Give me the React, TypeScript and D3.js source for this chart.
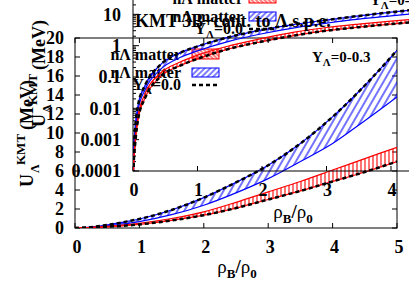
import React from "react";
import * as d3 from "d3";

// density points (rho_B / rho_0) and the two bands
const rho = [0, 0.01, 0.03, 0.08, 0.19, 0.42, 0.73, 1.0, 1.5, 2, 2.5, 3, 3.5, 4, 4.5, 5];
const blueUpper = [0, 0.0004, 0.002, 0.013, 0.056, 0.24, 0.59, 0.95, 1.9, 3.2, 4.8, 6.6, 8.9, 11.7, 15.0, 18.7];
const blueLower = [0, 0.0003, 0.0015, 0.009, 0.04, 0.17, 0.42, 0.68, 1.4, 2.4, 3.7, 5.2, 7.0, 8.9, 11.3, 13.8];
const redUpper = [0, 0.0002, 0.0008, 0.006, 0.03, 0.13, 0.3, 0.5, 1.0, 1.7, 2.7, 3.8, 4.9, 6.1, 7.3, 8.5];
const redLower = [0, 0.00015, 0.0006, 0.0045, 0.022, 0.1, 0.23, 0.38, 0.8, 1.35, 2.1, 3.0, 3.9, 4.9, 5.9, 7.0];

const mainXTicks = [0, 1, 2, 3, 4, 5];
const mainYTicks = [0, 2, 4, 6, 8, 10, 12, 14, 16, 18, 20];
const insetXTicks = [0, 1, 2, 3, 4, 5];
const insetYTicks = [0.0001, 0.001, 0.01, 0.1, 1, 10];
const insetYLabels = ["0.0001", "0.001", "0.01", "0.1", "1", "10"];

const legendNames = ["n\u039B matter", "n\u039B matter"];
const FONT = "'Liberation Serif', 'DejaVu Serif', serif";

export default function App() {
  const mx = d3.scaleLinear().domain([0, 5]).range([75, 397]);
  const my = d3.scaleLinear().domain([0, 20]).range([228, 38]);
  const ix = d3.scaleLinear().domain([0, 5]).range([133, 455.5]);
  const iy = d3.scaleLog().domain([1e-4, 100]).range([171, -17]);
  const idx = d3.range(rho.length);
  const fl = (v: number) => Math.max(v, 1e-7);

  const mArea = (lo: number[], hi: number[]) =>
    d3.area<number>().x((i) => mx(rho[i])).y0((i) => my(lo[i])).y1((i) => my(hi[i])).curve(d3.curveMonotoneX)(idx) || "";
  const mLine = (v: number[]) =>
    d3.line<number>().x((i) => mx(rho[i])).y((i) => my(v[i])).curve(d3.curveMonotoneX)(idx) || "";
  const iArea = (lo: number[], hi: number[]) =>
    d3.area<number>().x((i) => ix(rho[i])).y0((i) => iy(fl(lo[i]))).y1((i) => iy(fl(hi[i]))).curve(d3.curveMonotoneX)(idx) || "";
  const iLine = (v: number[]) =>
    d3.line<number>().x((i) => ix(rho[i])).y((i) => iy(fl(v[i]))).curve(d3.curveMonotoneX)(idx) || "";

  const logTicks = iy.ticks().filter((t) => t >= 1e-4 && t <= 100);
  const isMajor = (t: number) => Math.abs(Math.log10(t) - Math.round(Math.log10(t))) < 1e-6;

  const bands = (area: any, line: any) => (
    <>
      <path d={area(blueLower, blueUpper)} fill="url(#blueHatch)" stroke="none" />
      <path d={line(blueLower)} fill="none" stroke="#0000ff" strokeWidth={1.2} />
      <path d={line(blueUpper)} fill="none" stroke="#0000ff" strokeWidth={1.2} />
      <path d={area(redLower, redUpper)} fill="url(#redHatch)" stroke="none" />
      <path d={line(redLower)} fill="none" stroke="#ff0000" strokeWidth={1.2} />
      <path d={line(redUpper)} fill="none" stroke="#ff0000" strokeWidth={1.2} />
      <path d={line(blueUpper)} fill="none" stroke="#000" strokeWidth={2.5} strokeDasharray="4,3" />
      <path d={line(redLower)} fill="none" stroke="#000" strokeWidth={2.5} strokeDasharray="4,3" />
    </>
  );

  const legend = (tx: number, bx: number, y0: number) => (
    <g>
      <text x={tx} y={y0} textAnchor="end" fontSize={16}>{legendNames[0]}</text>
      <rect x={bx} y={y0 - 11} width={27} height={10} fill="url(#redKey)" stroke="#ff0000" strokeWidth={1} />
      <text x={tx} y={y0 + 18} textAnchor="end" fontSize={16}>{legendNames[1]}</text>
      <rect x={bx} y={y0 + 8} width={27} height={9} fill="url(#blueKey)" stroke="#0000ff" strokeWidth={1} />
      <text x={tx} y={y0 + 30} textAnchor="end" fontSize={16}>
        Y<tspan dy={4} fontSize={11}>{"\u039B"}</tspan><tspan dy={-4}>=0.0</tspan>
      </text>
      <line x1={bx} x2={bx + 27} y1={y0 + 25} y2={y0 + 25} stroke="#000" strokeWidth={2.5} strokeDasharray="4,3" />
    </g>
  );

  const yLabel = (x: number, y: number) => (
    <g transform={`translate(${x},${y}) rotate(-90)`} fontSize={18}>
      <text x={0} y={0}>U</text>
      <text x={14} y={6} fontSize={12}>{"\u039B"}</text>
      <text x={22} y={-8} fontSize={13}>KMT</text>
      <text x={57} y={0}>(MeV)</text>
    </g>
  );

  const xLabel = (x: number, y: number) => (
    <text x={x} y={y} textAnchor="middle" fontSize={19}>
      <tspan fontWeight="normal">{"\u03C1"}</tspan>
      <tspan dy={5} fontSize={13}>B</tspan>
      <tspan dy={-5}>/</tspan>
      <tspan fontWeight="normal">{"\u03C1"}</tspan>
      <tspan dy={5} fontSize={13}>0</tspan>
    </text>
  );

  const yTag = (x: number, y: number) => (
    <text x={x} y={y} fontSize={15}>
      Y<tspan dy={4} fontSize={11}>{"\u039B"}</tspan><tspan dy={-4}>=0-0.3</tspan>
    </text>
  );

  return (
    <svg width={409} height={286} style={{ position: "absolute", left: 0, top: 0 }} fontFamily={FONT} fontWeight="bold">
      <defs>
        <clipPath id="mainClip"><rect x={75} y={38} width={322} height={190} /></clipPath>
        <clipPath id="insetClip"><rect x={133} y={-17} width={322.5} height={188} /></clipPath>
        <pattern id="blueHatch" patternUnits="userSpaceOnUse" width={6} height={6} patternTransform="rotate(30)">
          <line x1={1} y1={0} x2={1} y2={6} stroke="#0000ff" strokeWidth={1.1} />
        </pattern>
        <pattern id="redHatch" patternUnits="userSpaceOnUse" width={4} height={4}>
          <line x1={1} y1={0} x2={1} y2={4} stroke="#ff0000" strokeWidth={1.1} />
        </pattern>
        <pattern id="blueKey" patternUnits="userSpaceOnUse" width={4} height={4} patternTransform="rotate(45)">
          <line x1={1} y1={0} x2={1} y2={4} stroke="#0000ff" strokeWidth={1} />
        </pattern>
        <pattern id="redKey" patternUnits="userSpaceOnUse" width={3} height={3} patternTransform="rotate(-45)">
          <line x1={1} y1={0} x2={1} y2={3} stroke="#ff0000" strokeWidth={1} />
        </pattern>
      </defs>
      <rect width={409} height={286} fill="#fff" />

      {/* main plot */}
      <rect x={75} y={38} width={322} height={190} fill="none" stroke="#000" strokeWidth={1} />
      {mainXTicks.map((t) => (
        <g key={`mx${t}`}>
          <line x1={mx(t)} x2={mx(t)} y1={228} y2={223} stroke="#000" />
          <line x1={mx(t)} x2={mx(t)} y1={38} y2={43} stroke="#000" />
          <text x={mx(t) + 2} y={253} textAnchor="middle" fontSize={18}>{t}</text>
        </g>
      ))}
      {mainYTicks.map((t) => (
        <g key={`my${t}`}>
          <line x1={75} x2={80} y1={my(t)} y2={my(t)} stroke="#000" />
          <line x1={397} x2={392} y1={my(t)} y2={my(t)} stroke="#000" />
          <text x={64} y={my(t)} dy="0.35em" textAnchor="end" fontSize={18}>{t}</text>
        </g>
      ))}
      <g clipPath="url(#mainClip)">{bands(mArea, mLine)}</g>
      {legend(181, 192, 60)}
      {yTag(312, 62)}
      {xLabel(237, 273)}
      {yLabel(33, 187)}

      {/* inset */}
      <rect x={133} y={-17} width={322.5} height={188} fill="none" stroke="#000" strokeWidth={1} />
      {insetXTicks.map((t) => (
        <g key={`ix${t}`}>
          <line x1={ix(t)} x2={ix(t)} y1={171} y2={166} stroke="#000" />
          <text x={ix(t) + 1} y={196} textAnchor="middle" fontSize={18}>{t}</text>
        </g>
      ))}
      {logTicks.map((t, k) => (
        <line key={`iyt${k}`} x1={133} x2={133 + (isMajor(t) ? 6 : 3)} y1={iy(t)} y2={iy(t)} stroke="#000" />
      ))}
      {insetYTicks.map((t, k) => (
        <text key={`iyl${k}`} x={121} y={iy(t)} dy="0.35em" textAnchor="end" fontSize={18}>{insetYLabels[k]}</text>
      ))}
      <g clipPath="url(#insetClip)">{bands(iArea, iLine)}</g>
      {legend(243, 249, 4)}
      {yTag(370, 5)}
      {xLabel(293, 218)}
      {yLabel(45, 127)}

      <text x={135} y={27} fontSize={18}>KMT 3B+cont. to {"\u039B"} s.p.e.</text>
    </svg>
  );
}
